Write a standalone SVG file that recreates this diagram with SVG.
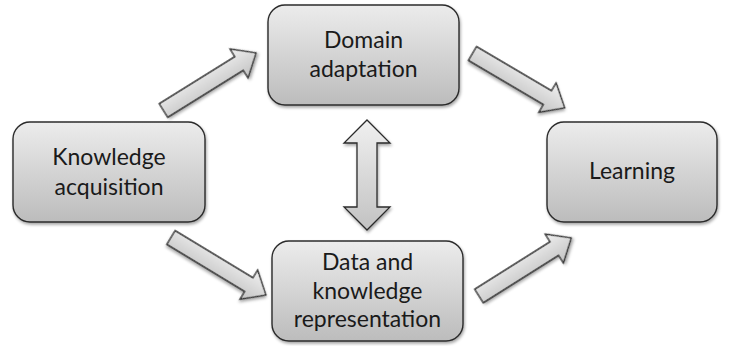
<svg xmlns="http://www.w3.org/2000/svg" width="730" height="346" viewBox="0 0 730 346">
  <defs>
    <linearGradient id="boxGrad" x1="0" y1="0" x2="0" y2="1">
      <stop offset="0" stop-color="#ececec"/>
      <stop offset="1" stop-color="#bcbcbc"/>
    </linearGradient>
    <linearGradient id="arrGrad" x1="0" y1="0" x2="0" y2="1">
      <stop offset="0" stop-color="#f0f0f0"/>
      <stop offset="1" stop-color="#c2c2c2"/>
    </linearGradient>
    <filter id="shadow" x="-20%" y="-20%" width="140%" height="150%">
      <feDropShadow dx="1" dy="2" stdDeviation="1.8" flood-color="#000" flood-opacity="0.35"/>
    </filter>
  </defs>
  <style>
    .box { fill: url(#boxGrad); stroke: #2b2b2b; stroke-width: 1.4; filter: url(#shadow); }
    .arrow { fill: url(#arrGrad); stroke: #2b2b2b; stroke-width: 1.3; stroke-linejoin: miter; filter: url(#shadow); }
    .label { font-family: Lato, "Liberation Sans", sans-serif; font-size: 23px; fill: #1a1a1a; text-anchor: middle; }
  </style>
  <rect width="730" height="346" fill="#ffffff"/>

  <g id="connectors">
    <polygon class="arrow" points="0,-8 89,-8 89,-17 109,0 89,17 89,8 0,8" transform="translate(163.5,110.5) rotate(-31.9)"/>
    <polygon class="arrow" points="0,-8 87,-8 87,-17 107,0 87,17 87,8 0,8" transform="translate(472.5,53.5) rotate(30.5)"/>
    <polygon class="arrow" points="0,-8 91,-8 91,-17 111,0 91,17 91,8 0,8" transform="translate(171,237.5) rotate(31.2)"/>
    <polygon class="arrow" points="0,-8 89,-8 89,-17 109,0 89,17 89,8 0,8" transform="translate(479,296) rotate(-32.2)"/>
    <polygon class="arrow" points="367,120 390,143 377,143 377,207 390,207 367,230 344,207 357,207 357,143 344,143"/>
  </g>

  <g id="node-knowledge-acquisition">
    <rect class="box" x="13" y="122" width="192" height="100" rx="17" ry="17"/>
    <text class="label" x="109" y="165">Knowledge</text>
    <text class="label" x="109" y="194.5">acquisition</text>
  </g>

  <g id="node-domain-adaptation">
    <rect class="box" x="268" y="5" width="191" height="100" rx="17" ry="17"/>
    <text class="label" x="363.5" y="48">Domain</text>
    <text class="label" x="363.5" y="77">adaptation</text>
  </g>

  <g id="node-data-knowledge-representation">
    <rect class="box" x="272" y="241" width="191" height="100" rx="17" ry="17"/>
    <text class="label" x="367.5" y="270">Data and</text>
    <text class="label" x="367.5" y="298.5">knowledge</text>
    <text class="label" x="367.5" y="327">representation</text>
  </g>

  <g id="node-learning">
    <rect class="box" x="547" y="122" width="170" height="100" rx="17" ry="17"/>
    <text class="label" x="632" y="179">Learning</text>
  </g>
</svg>
